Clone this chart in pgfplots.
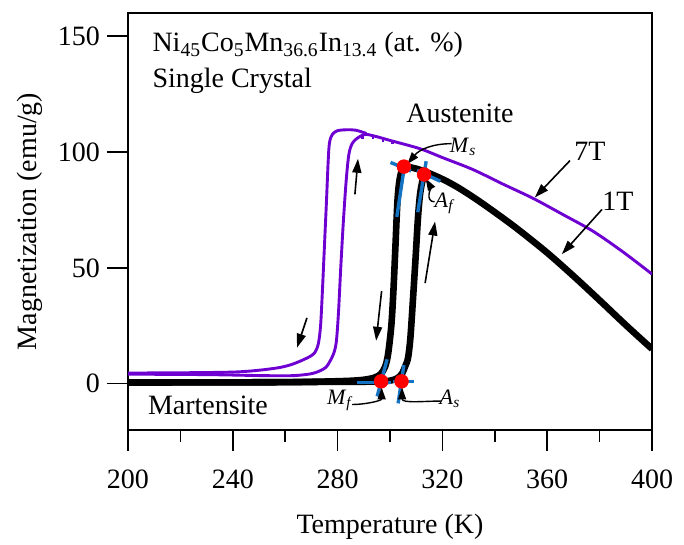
\documentclass[border=0pt]{standalone}
\usepackage{fontspec}
\setmainfont{Liberation Serif}
\usepackage{pgfplots}
\pgfplotsset{compat=1.18}
\usetikzlibrary{arrows.meta}
\definecolor{violetS}{RGB}{110,0,210}
\definecolor{tanblue}{RGB}{20,115,195}
\begin{document}
\begin{tikzpicture}[font=\fontsize{14}{16.8}\selectfont,
  arr/.style={line width=0.8pt,-{Triangle[length=7pt,width=4.5pt]}},
  carr/.style={line width=0.7pt,-{Triangle[length=6pt,width=4pt]}}]
\begin{axis}[name=ax, scale only axis, width=262pt, height=208.5pt,
  xmin=200, xmax=400, ymin=-20, ymax=160,
  xtick={200,240,...,400}, minor xtick={220,260,...,380}, ytick={0,50,100,150},
  axis line style={line width=0.8pt},
  tick align=outside, major tick length=10.5pt, minor tick length=6pt,
  xtick pos=bottom, ytick pos=left,
  every tick/.style={black, line width=0.8pt},
  /pgf/number format/assume math mode=true,
  tick label style={font=\fontsize{14}{16.8}\selectfont},
  xticklabel style={yshift=-6pt},
  xlabel={Temperature (K)}, ylabel={Magnetization (emu/g)},
  xlabel style={at={(axis description cs:0.5,-0.232)}, anchor=center},
  ylabel style={at={(axis description cs:-0.187,0.5)}, anchor=center},
]
% 7T heating
\addplot[violetS, line width=1.45pt, smooth] coordinates {
(200,4.1) (230,3.9) (250,3.5) (260,3.4) (265,3.6) (270,4.3) (273,5.4) (275.5,7)
(277,9.5) (278.5,13) (279.5,18) (280.3,30) (281.2,50) (282.2,70) (283.3,88)
(284.3,99) (285.5,103.5) (287,105.5) (289,107) (291,107.6) (295,106.6) (300,105)
(311.5,101.4) (320,97.6) (331.7,92.4) (343,86.2) (354.6,80) (366,73) (377.5,65.8)
(389,56.8) (400,47.3)};
% 7T cooling
\addplot[violetS, line width=1.45pt, smooth] coordinates {
(291,108) (287,109.4) (283.5,109.6) (280,109.2) (278,107.6) (276.9,104) (276.4,96)
(275.8,80) (275,60) (274.2,40) (273.5,25) (272.6,17) (271,13) (268.2,11)
(263,8.5) (258,7) (250,5.8) (240,5.0) (220,4.7) (200,4.6)};
% small ripples on 7T
\addplot[violetS, line width=1.3pt] coordinates {(289.6,107.6) (289.6,105.6)};
\addplot[violetS, line width=1.3pt] coordinates {(293.5,107.2) (293.5,105.4)};
\addplot[violetS, line width=1.3pt] coordinates {(297.3,106) (297.3,104.3)};
\addplot[violetS, line width=1.3pt] coordinates {(301,104.7) (301,103.3)};
% 1T cooling
\addplot[black, line width=3.3pt, smooth] coordinates {
(319,88.8) (314,91.3) (310,92.8) (307,93.5) (305.3,93.2) (304.2,91) (303.4,86)
(302.8,78) (302.1,60) (301.3,40) (300.5,25) (299.3,13) (298.2,7.5) (296.5,4.2)
(294,2.6) (290,1.7) (284,1.2) (270,0.8) (250,0.6) (200,0.5)};
% 1T heating
\addplot[black, line width=3.3pt, smooth] coordinates {
(200,0.5) (250,0.6) (280,0.8) (295,0.9) (300,1.3) (302.7,2.3) (304.5,4.2)
(305.8,7.5) (306.9,11.2) (307.8,20) (308.8,37) (309.8,55) (310.7,72) (311.5,82)
(312.5,88) (313.6,90.2) (316,90.0) (320,88.3) (325,85.3) (330,81.8) (335,78)
(340,74) (345,69.9) (350,65.6) (360,56.5) (370,46.5) (380,36) (390,25.3) (400,15)};
% tangents
\addplot[tanblue, line width=1.7pt] coordinates {(300.2,95.5) (308,91.8)};
\addplot[tanblue, line width=1.7pt] coordinates {(305.8,96) (302.6,72)};
\addplot[tanblue, line width=1.7pt] coordinates {(313.8,96) (310.6,74)};
\addplot[tanblue, line width=1.7pt] coordinates {(310.3,92) (319.2,87.4)};
\addplot[tanblue, line width=1.7pt] coordinates {(298.9,10.5) (295.1,-5.5)};
\addplot[tanblue, line width=1.7pt] coordinates {(287.5,0.6) (300.3,0.6)};
\addplot[tanblue, line width=1.7pt] coordinates {(305.3,8) (303.1,-8.5)};
\addplot[tanblue, line width=1.7pt] coordinates {(301,1) (309.2,1)};
% points
\addplot[only marks, mark=*, mark size=3.4pt, red, draw=red] coordinates {
(305.3,93.7) (313,90.3) (296.6,1) (304.4,1)};
% arrows
\draw[arr] (axis cs:368.7,96.3) -- (axis cs:355.3,80.4);
\draw[arr] (axis cs:380.9,75.2) -- (axis cs:365.6,55.9);
\draw[arr] (axis cs:268.3,28.4) -- (axis cs:264.5,15.5);
\draw[arr] (axis cs:286.6,81.7) -- (axis cs:287.8,97.1);
\draw[arr] (axis cs:296.8,40) -- (axis cs:294.7,18.5);
\draw[arr] (axis cs:313.4,43.4) -- (axis cs:317.2,70);
\draw[carr] (axis cs:323.5,103.6) to[out=180,in=50] (axis cs:306.6,94.8);
\draw[carr] (axis cs:317,78.5) to[out=180,in=-60] (axis cs:313.6,88.6);
\draw[carr] (axis cs:285.5,-9) to[out=0,in=-90] (axis cs:296.8,-1.6);
\draw[carr] (axis cs:319.5,-7.5) to[out=180,in=-90] (axis cs:304.6,-1.6);
% texts
\node[anchor=base west, inner sep=0pt] at (axis cs:209.2,143.3) {Ni\textsubscript{45}Co\textsubscript{5}Mn\textsubscript{36.6}In\textsubscript{13.4} (at. \%)};
\node[anchor=base west, inner sep=0pt] at (axis cs:209.2,128) {Single Crystal};
\node at (axis cs:326.7,116.5) {Austenite};
\node at (axis cs:230.5,-9.5) {Martensite};
\node at (axis cs:376.3,100.1) {7T};
\node at (axis cs:387,78.7) {1T};
\node[font=\fontsize{11}{13}\selectfont] at (axis cs:327.9,102.3) {\textit{M}\textsubscript{\textit{s}}};
\node[font=\fontsize{11}{13}\selectfont] at (axis cs:321,77.8) {\textit{A}\textsubscript{\textit{f}}};
\node[font=\fontsize{11}{13}\selectfont] at (axis cs:281,-7.3) {\textit{M}\textsubscript{\textit{f}}};
\node[font=\fontsize{11}{13}\selectfont] at (axis cs:322.9,-6.4) {\textit{A}\textsubscript{\textit{s}}};
\end{axis}
\pgfresetboundingbox
\path ([xshift=-64pt,yshift=-57.5pt]ax.south west) rectangle ([xshift=16pt,yshift=6.5pt]ax.north east);
\end{tikzpicture}
\end{document}
